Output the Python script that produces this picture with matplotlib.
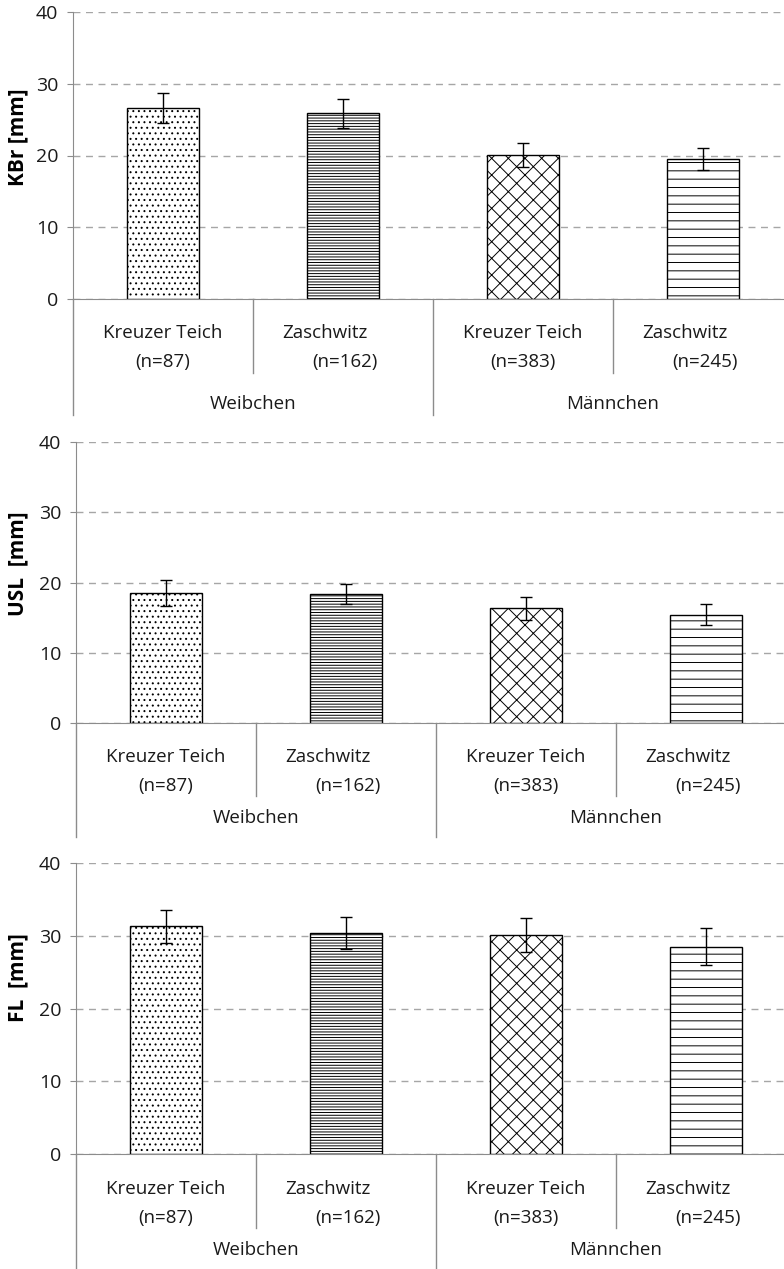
import matplotlib
matplotlib.use("Agg")
import matplotlib.pyplot as plt
import matplotlib.transforms as mtransforms
import numpy as np

W, H = 784, 1269
DPI = 100

plt.rcParams["font.family"] = ["Open Sans", "DejaVu Sans"]
plt.rcParams["hatch.linewidth"] = 0.7

sites = ["Kreuzer Teich", "Zaschwitz", "Kreuzer Teich", "Zaschwitz"]
counts = ["(n=87)", "(n=162)", "(n=383)", "(n=245)"]
groups = ["Weibchen", "Männchen"]
hatches = ["...", "------", "xx", "--"]

kbr_mean = [26.6, 25.9, 20.1, 19.5]
kbr_err = [2.1, 2.0, 1.7, 1.5]
usl_mean = [18.5, 18.4, 16.3, 15.4]
usl_err = [1.9, 1.4, 1.6, 1.5]
fl_mean = [31.3, 30.4, 30.1, 28.5]
fl_err = [2.3, 2.2, 2.4, 2.5]

panels = [
    # ylabel, means, errors, (top, bottom, left) in px, label offsets, ylabel y
    ("KBr [mm]", kbr_mean, kbr_err, (12, 299, 73), (34, 63, 74, 105, 116), 137),
    ("USL  [mm]", usl_mean, usl_err, (442, 723, 76), (34, 63, 73, 95, 114), 564),
    ("FL  [mm]", fl_mean, fl_err, (863, 1154, 76), (35, 64, 74, 96, 118), 978),
]

CAT_W = 180.0  # px per category
GRAY = "#8c8c8c"
TXT = "#1a1a1a"


def main():
    fig = plt.figure(figsize=(W / DPI, H / DPI), dpi=DPI)

    for ylabel, means, errs, (top, bottom, left), offs, ylab_y in panels:
        width_px = W - left
        ax = fig.add_axes([left / W, 1 - bottom / H, width_px / W, (bottom - top) / H])
        ax.set_xlim(0, width_px / CAT_W)
        ax.set_ylim(0, 40)
        x = np.arange(len(means)) + 0.5

        for xi, m, h in zip(x, means, hatches):
            ax.bar(xi, m, width=0.4, color="white", edgecolor="black",
                   linewidth=1.0, hatch=h, zorder=2)
        ax.errorbar(x, means, yerr=errs, fmt="none", ecolor="black",
                    elinewidth=1.0, capsize=4.3, capthick=1.0, zorder=3)

        ax.set_yticks([0, 10, 20, 30, 40])
        ax.yaxis.grid(True, linestyle=(0, (5, 4)), color="#a6a6a6", linewidth=1.0)
        ax.set_axisbelow(True)
        ax.set_xticks([])
        for side in ["top", "right"]:
            ax.spines[side].set_visible(False)
        ax.spines["left"].set_color(GRAY)
        ax.spines["bottom"].set_color(GRAY)
        ax.tick_params(axis="y", direction="out", length=4.5, color=GRAY,
                       labelsize=14, pad=6, labelcolor=TXT)

        # category labels below the axis (offsets in px from the zero line)
        h_px = bottom - top
        fy = lambda px: -px / h_px
        trans = mtransforms.blended_transform_factory(ax.transData, ax.transAxes)
        dx = 1.0 / CAT_W
        for i, (site, cnt) in enumerate(zip(sites, counts)):
            shift1 = 0 if i % 2 == 0 else -18 * dx
            shift2 = 0 if i % 2 == 0 else 2 * dx
            ax.text(x[i] + shift1, fy(offs[0]), site, transform=trans,
                    ha="center", va="center", fontsize=13.5, color=TXT)
            ax.text(x[i] + shift2, fy(offs[1]), cnt, transform=trans,
                    ha="center", va="center", fontsize=13.5, color=TXT)
        for sx in [1, 3]:
            ax.plot([sx, sx], [0, fy(offs[2])], transform=trans, color=GRAY,
                    linewidth=1.0, clip_on=False)
        for sx in [0, 2, 4]:
            ax.plot([sx, sx], [0, fy(offs[4])], transform=trans, color=GRAY,
                    linewidth=1.0, clip_on=False)
        for gi, g in enumerate(groups):
            ax.text(2 * gi + 1, fy(offs[3]), g, transform=trans,
                    ha="center", va="center", fontsize=13.5, color=TXT)

        fig.text(18 / W, 1 - ylab_y / H, ylabel, rotation=90, ha="center",
                 va="center", fontsize=15, fontweight="bold")

    fig.savefig("out.png", dpi=DPI)


if __name__ == "__main__":
    main()
